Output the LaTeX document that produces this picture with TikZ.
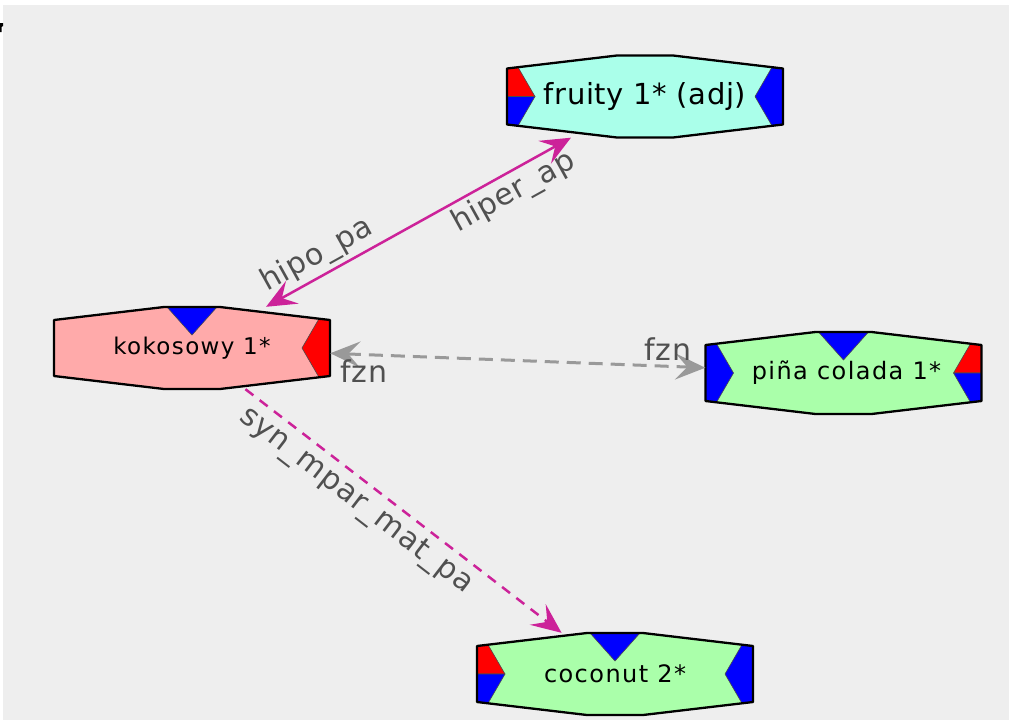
\documentclass[tikz,border=0pt]{standalone}
\usepackage{fontspec}
\setmainfont{DejaVu Sans}
\newfontfamily\nodefont[LetterSpace=6]{DejaVu Sans}
\newfontfamily\topfont[LetterSpace=2]{DejaVu Sans}
\newfontfamily\lblfont[LetterSpace=3]{DejaVu Sans}
\usetikzlibrary{arrows.meta}
\definecolor{bgc}{HTML}{EEEEEE}
\definecolor{aquafill}{HTML}{AAFFEA}
\definecolor{pinkfill}{HTML}{FFAAAA}
\definecolor{greenfill}{HTML}{AAFFAA}
\definecolor{mred}{HTML}{FF0000}
\definecolor{mblue}{HTML}{0000FF}
\definecolor{magedge}{HTML}{CC2299}
\definecolor{grayedge}{HTML}{999999}
\definecolor{lblc}{HTML}{505050}
\tikzset{
  outline/.style={draw=black, line width=2.3pt, line join=round},
  mk/.style={draw=black!70, line width=0.6pt, line join=round},
  nd/.style={shape=rectangle, minimum width=276pt, minimum height=82pt, inner sep=0pt, text=black},
  lbl/.style={text=lblc, font=\lblfont\fontsize{30}{34}\selectfont, inner sep=4pt},
  medge/.style={draw=magedge, line width=2.5pt},
  gedge/.style={draw=grayedge, line width=3pt, dash pattern=on 14pt off 8pt},
}
\newcommand{\hexbody}[3]{%
  \begin{scope}[shift={#1}]
    \fill[#2] (-138,-28) -- (-28,-41) -- (28,-41) -- (138,-28) -- (138,28) -- (28,41) -- (-28,41) -- (-138,28) -- cycle;
    #3
    \draw[outline] (-138,-28) -- (-28,-41) -- (28,-41) -- (138,-28) -- (138,28) -- (28,41) -- (-28,41) -- (-138,28) -- cycle;
  \end{scope}}
\newcommand{\mkTop}{\filldraw[mk, fill=mblue] (-25,-41) -- (25,-41) -- (0,-13) -- cycle;}
\newcommand{\mkRightFull}[1]{\filldraw[mk, fill=#1] (138,-28) -- (127,-29.3) -- (110,0) -- (127,29.3) -- (138,28) -- cycle;}
\newcommand{\mkLeftFull}[1]{\filldraw[mk, fill=#1] (-138,-28) -- (-127,-29.3) -- (-110,0) -- (-127,29.3) -- (-138,28) -- cycle;}
\newcommand{\mkRightSplit}{%
  \filldraw[mk, fill=mred] (138,-28) -- (127,-29.3) -- (110,0) -- (138,0) -- cycle;
  \filldraw[mk, fill=mblue] (138,0) -- (110,0) -- (127,29.3) -- (138,28) -- cycle;}
\newcommand{\mkLeftSplit}{%
  \filldraw[mk, fill=mred] (-138,-28) -- (-127,-29.3) -- (-110,0) -- (-138,0) -- cycle;
  \filldraw[mk, fill=mblue] (-138,0) -- (-110,0) -- (-127,29.3) -- (-138,28) -- cycle;}
\begin{document}
\begin{tikzpicture}[x=1pt, y=-1pt,
  >={Stealth[length=30pt, width=26pt, inset=12pt]}]
\useasboundingbox (0,0) rectangle (1009,720);
\fill[white] (0,0) rectangle (1009,720);
\fill[bgc] (3,5) rectangle (1009,720);
\fill[black] (0,23) -- (3,23) -- (3,26) -- (1.5,27) -- (1.5,32) -- (0,32) -- cycle;

% shapes
\hexbody{(645,96.5)}{aquafill}{\mkLeftSplit \mkRightFull{mblue}}
\hexbody{(192,348)}{pinkfill}{\mkTop \mkRightFull{mred}}
\hexbody{(843.5,373)}{greenfill}{\mkTop \mkLeftFull{mblue} \mkRightSplit}
\hexbody{(615,674)}{greenfill}{\mkTop \mkLeftSplit \mkRightFull{mblue}}

% text nodes
\node[nd, font=\topfont\fontsize{29}{33}\selectfont] (fruity) at (645,96.5) {fruity 1* (adj)};
\node[nd, font=\nodefont\fontsize{23}{27}\selectfont] (koko) at (192,348) {kokosowy 1*};
\node[nd, font=\nodefont\fontsize{24}{28}\selectfont] (pina) at (843.5,373) {\hspace{6pt}piña colada 1*};
\node[nd, font=\nodefont\fontsize{24}{28}\selectfont] (coco) at (615,674) {coconut 2*};

% edges
\draw[medge, <->] (koko) -- node[lbl, pos=0.2, sloped, above] {hipo\_pa}
                              node[lbl, pos=0.78, sloped, below] {hiper\_ap} (fruity);
\draw[gedge, <->] (koko) -- node[lbl, pos=0.09, below] {fzn}
                            node[lbl, pos=0.9, above] {fzn} (pina);
\draw[medge, dash pattern=on 10pt off 8pt, ->] (koko) -- node[lbl, pos=0.39, sloped, below, yshift=-2pt] {syn\_mpar\_mat\_pa} (coco);
\end{tikzpicture}
\end{document}
